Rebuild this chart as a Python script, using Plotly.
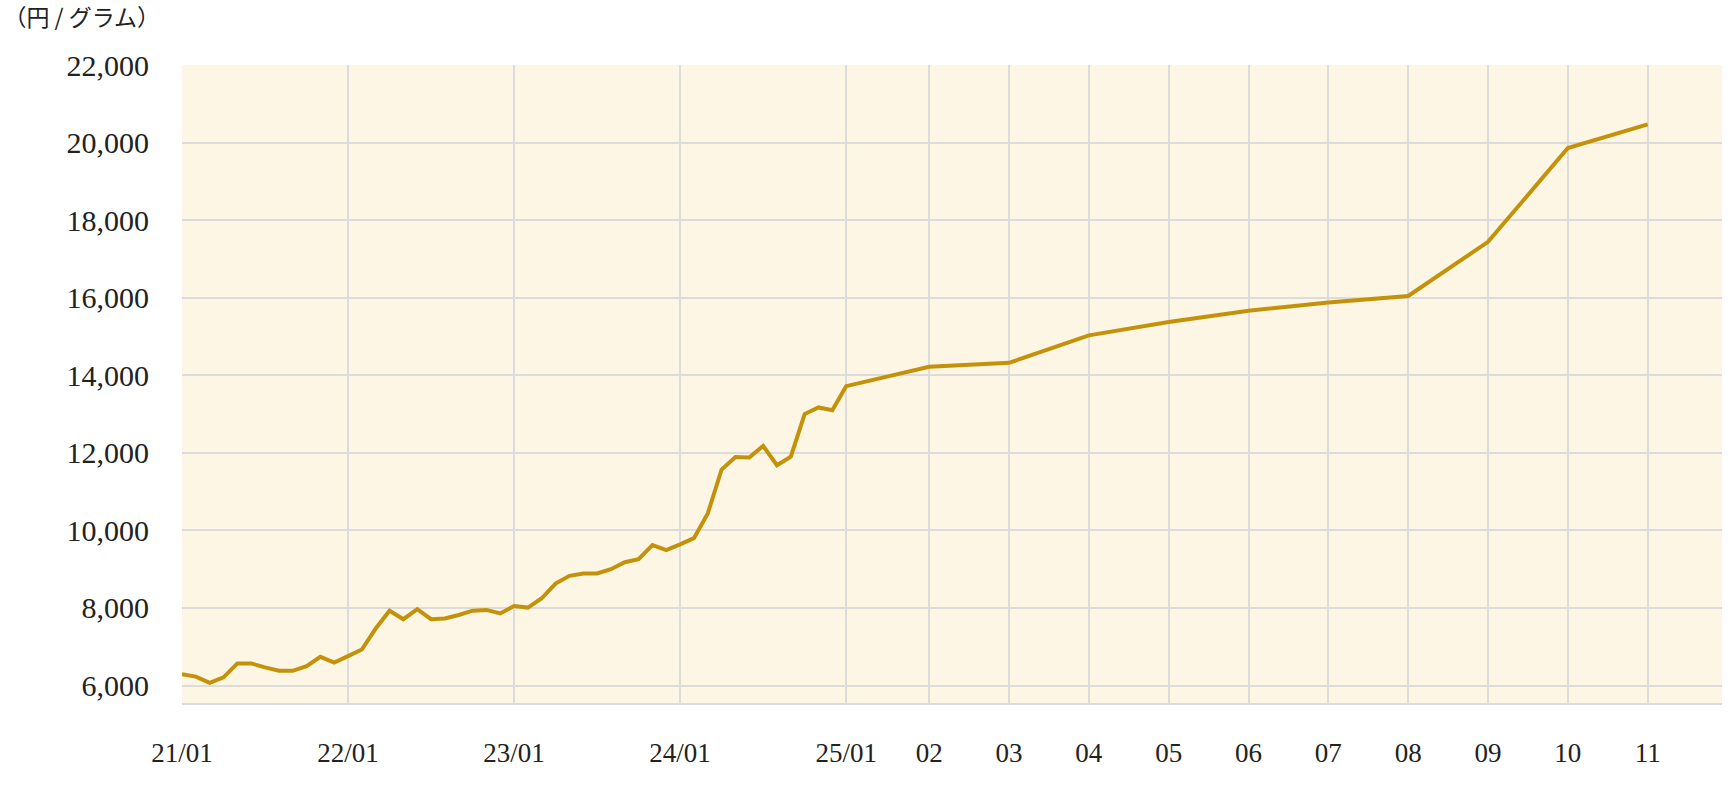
import plotly.graph_objects as go

# ---- data ----
months = [
    "2021-01", "2021-02", "2021-03", "2021-04", "2021-05", "2021-06",
    "2021-07", "2021-08", "2021-09", "2021-10", "2021-11", "2021-12",
    "2022-01", "2022-02", "2022-03", "2022-04", "2022-05", "2022-06",
    "2022-07", "2022-08", "2022-09", "2022-10", "2022-11", "2022-12",
    "2023-01", "2023-02", "2023-03", "2023-04", "2023-05", "2023-06",
    "2023-07", "2023-08", "2023-09", "2023-10", "2023-11", "2023-12",
    "2024-01", "2024-02", "2024-03", "2024-04", "2024-05", "2024-06",
    "2024-07", "2024-08", "2024-09", "2024-10", "2024-11", "2024-12",
    "2025-01", "2025-02", "2025-03", "2025-04", "2025-05", "2025-06",
    "2025-07", "2025-08", "2025-09", "2025-10", "2025-11",
]
price = [
    6290, 6230, 6070, 6210, 6570, 6570, 6470, 6380, 6380, 6500, 6740, 6590,
    6760, 6930, 7470, 7930, 7710, 7970, 7710, 7730, 7820, 7930, 7950, 7860,
    8050, 8010, 8250, 8630, 8830, 8890, 8890, 9000, 9180, 9260, 9620, 9490,
    9640, 9800, 10440, 11570, 11890, 11880, 12180, 11680, 11900, 13000, 13170, 13100,
    13720, 14220, 14320, 15030, 15375, 15665, 15875, 16045, 17440, 19860, 20470,
]
x_tick_months = ["2021-01", "2022-01", "2023-01", "2024-01", "2025-01", "2025-02",
                 "2025-03", "2025-04", "2025-05", "2025-06", "2025-07", "2025-08",
                 "2025-09", "2025-10", "2025-11"]
x_tick_labels = ["21/01", "22/01", "23/01", "24/01", "25/01", "02", "03", "04",
                 "05", "06", "07", "08", "09", "10", "11"]
y_ticks = [6000, 8000, 10000, 12000, 14000, 16000, 18000, 20000, 22000]
unit_label = "（円 / グラム）"

# ---- axis layout: monthly slots until 2025-01, wide slots during 2025 ----
RECENT_START = 6.0
RECENT_STEP = 5.77


def pos(ym):
    y, m = int(ym[:4]), int(ym[5:])
    idx = (y - 2021) * 12 + (m - 1)
    if y < 2025 or m == 1:
        return float(idx)
    return 48 + RECENT_START + (m - 2) * RECENT_STEP


xs = [pos(m) for m in months]
tickvals = [pos(m) for m in x_tick_months]

LINE = "#C4920A"
GRID = "#DCDCDC"
FONT = "Liberation Serif, 'Noto Sans CJK JP', serif"

fig = go.Figure()
fig.add_trace(go.Scatter(
    x=xs, y=price, mode="lines",
    line=dict(color=LINE, width=4),
    hoverinfo="skip", showlegend=False,
))

fig.update_layout(
    width=1728, height=790,
    margin=dict(l=182, r=6, t=65, b=87),
    paper_bgcolor="white",
    plot_bgcolor="#FEF6E4",
    font=dict(family=FONT, color="#222222", size=27),
    title=dict(text=unit_label, x=0.002, xanchor="left", y=0.977, yanchor="middle",
               xref="container", yref="container",
               font=dict(size=23, family="'Noto Sans CJK JP', serif", color="#222222")),
)
fig.update_xaxes(
    range=[0, 111.3], tickvals=tickvals, ticktext=x_tick_labels,
    showgrid=True, gridcolor=GRID, gridwidth=2,
    showline=True, linecolor=GRID, linewidth=2,
    zeroline=False, ticks="", ticklabelstandoff=25,
    tickfont=dict(size=27),
)
fig.update_yaxes(
    range=[5550, 22000], tickvals=y_ticks, tickformat=",",
    showgrid=True, gridcolor=GRID, gridwidth=2,
    showline=False, zeroline=False, ticks="", ticklabelstandoff=32,
    tickfont=dict(size=30),
)

fig.write_html("out.html", config={"displayModeBar": False},
               post_script="document.body.style.margin='0';")
